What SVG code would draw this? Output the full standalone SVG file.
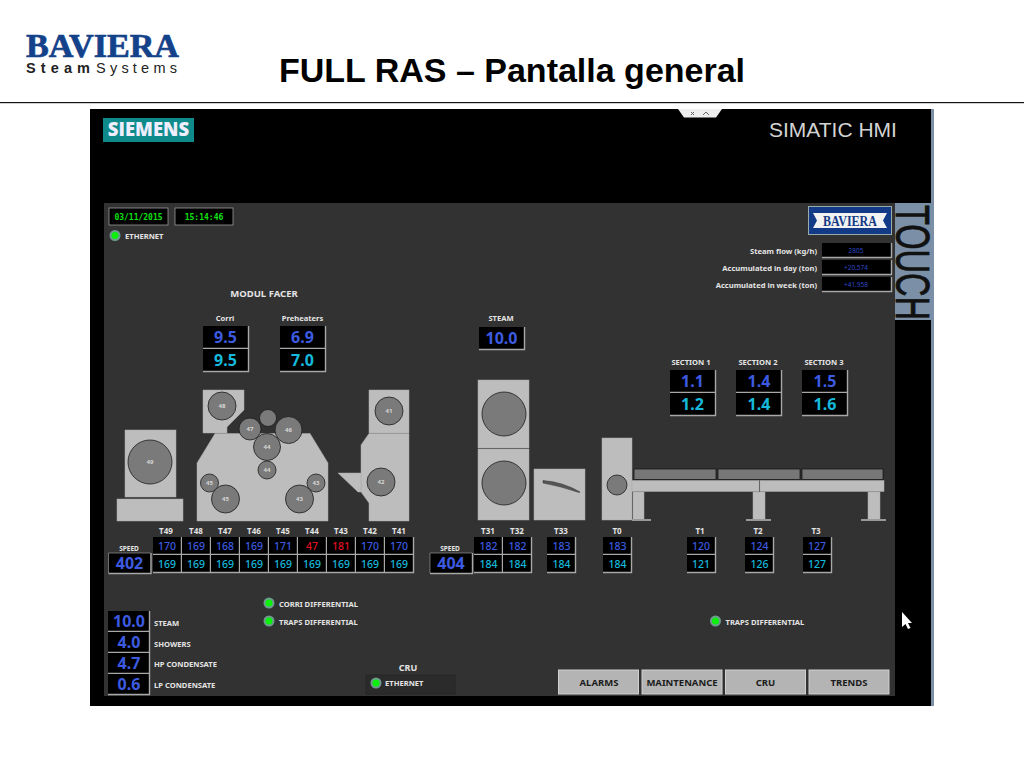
<svg xmlns="http://www.w3.org/2000/svg" width="1024" height="768" viewBox="0 0 1024 768">
<style>
text{font-family:"Noto Sans","Liberation Sans",sans-serif}
.lb{font-size:7.6px;font-weight:700;fill:#e4e4e4}
.ct{text-anchor:middle}
.big{font-size:16px;font-weight:700;text-anchor:middle}
.mid{font-size:10.5px;font-weight:500;text-anchor:middle}
.b{fill:#3c5be0}.c{fill:#14b9dc}.r{fill:#e01020}
.m{fill:#bdbdbd;stroke:#aaa;stroke-width:.5}
.w{fill:#7a7a7a;stroke:#1c1c1c;stroke-width:.8}
.n{font-size:6px;font-weight:700;fill:#d8d8d8;text-anchor:middle}
.led{fill:#0cf00c;stroke:#6f9a90;stroke-width:2}
.btn{fill:#b4b4b4;stroke:#d0d0d0;stroke-width:1}
.bt{font-size:9.5px;font-weight:700;fill:#1c1c1c;text-anchor:middle}
.bev{fill:none;stroke:#a8a8a8;stroke-width:1.4}
</style>
<defs>
<g id="cell"><rect width="28" height="17" fill="#000"/><path class="bev" d="M28.5 0V17.5H0"/></g>
<g id="val"><rect width="45" height="22" fill="#000"/><path class="bev" d="M45.5 0V22.5H0"/></g>
<g id="speed"><rect width="42" height="20" fill="#000"/><path class="bev" d="M42.5 0V20.5H0"/><path d="M0 20V0H42" fill="none" stroke="#a8a8a8" stroke-width=".6"/></g>
<g id="flow"><rect width="69" height="14" fill="#000"/><path class="bev" d="M69.5 0V14.5H0"/></g>
<g id="side"><rect width="41" height="20" fill="#000"/><path class="bev" d="M41.5 0V20.5H0"/></g>
</defs>
<rect width="1024" height="768" fill="#fff"/>

<g id="header">
<text x="26" y="57" font-size="34" font-weight="700" textLength="153" lengthAdjust="spacingAndGlyphs" fill="#14428a" stroke="#14428a" stroke-width=".7" style="font-family:'Liberation Serif',serif">BAVIERA</text>
<text x="26" y="72.500" font-size="14.500" font-weight="700" fill="#222" textLength="64" style="font-family:'Liberation Sans',sans-serif">Steam</text>
<text x="96" y="72.500" font-size="14.500" fill="#222" textLength="81" style="font-family:'Liberation Sans',sans-serif">Systems</text>
<text x="279" y="82" font-size="34" font-weight="700" fill="#000" style="font-family:'Liberation Sans',sans-serif">FULL RAS – Pantalla general</text>
<rect x="0" y="102" width="1024" height="1.2" fill="#111"/>
</g>

<g id="screen">
<rect x="90" y="109" width="841" height="597" fill="#000"/>
<rect x="931" y="109" width="3" height="597" fill="#7b90a6"/>
<rect x="104" y="203" width="791" height="493" fill="#323232"/>
<rect x="103" y="118" width="91" height="24" fill="#0f8a8a"/>
<text x="148.500" y="136" font-size="18.500" font-weight="800" fill="#eef" text-anchor="middle" style="font-family:'Open Sans',sans-serif">SIEMENS</text>
<path d="M678 109H722L716 117.500H684Z" fill="#eee"/>
<path d="M691 112l3 3m0-3l-3 3M703 115l3-3 3 3" stroke="#666" fill="none"/>
<text x="769" y="137" font-size="21" fill="#d4d4d4" style="font-family:'Liberation Sans',sans-serif">SIMATIC HMI</text>
<rect x="895" y="203" width="36" height="117" fill="#7b90a6"/>
<text transform="translate(896,205) rotate(90)" font-size="48" fill="#111" stroke="#111" stroke-width=".8" textLength="115" lengthAdjust="spacingAndGlyphs" style="font-family:'Liberation Sans',sans-serif">TOUCH</text>
<path d="M902 612V627L905.500 624L908 629L910.500 628L908 623H912Z" fill="#fff"/>
</g>

<g id="status">
<rect x="109" y="208" width="59" height="17" fill="#000" stroke="#999" stroke-width=".8"/>
<text x="138.500" y="220" font-size="8" font-weight="700" fill="#10e010" text-anchor="middle" style="font-family:'DejaVu Sans Mono',monospace">03/11/2015</text>
<rect x="175" y="208" width="58" height="17" fill="#000" stroke="#999" stroke-width=".8"/>
<text x="204" y="220" font-size="8" font-weight="700" fill="#10e010" text-anchor="middle" style="font-family:'DejaVu Sans Mono',monospace">15:14:46</text>
<circle class="led" cx="115" cy="235.500" r="4.500"/>
<text class="lb" x="125" y="238.500">ETHERNET</text>
</g>

<g id="baviera-badge">
<rect x="808.500" y="206.500" width="83" height="28" fill="#123a86" stroke="#9aa" stroke-width="1"/>
<path d="M813 213H887L883 220.500L887 228H813L817 220.500Z" fill="#f2f2f2"/>
<text x="850" y="225.500" font-size="14" font-weight="700" fill="#123a86" text-anchor="middle" textLength="54" lengthAdjust="spacingAndGlyphs" style="font-family:'Liberation Serif',serif">BAVIERA</text>
</g>

<g id="flows">
<g class="lb" text-anchor="end">
<text x="817" y="254">Steam flow (kg/h)</text>
<text x="817" y="271">Accumulated in day (ton)</text>
<text x="817" y="288">Accumulated in week (ton)</text>
</g>
<use href="#flow" x="822" y="243"/><use href="#flow" x="822" y="260"/><use href="#flow" x="822" y="277"/>
<g font-size="6.500" fill="#2e48c8" text-anchor="middle">
<text x="856" y="252.500">2805</text><text x="856" y="270">+20.574</text><text x="856" y="287">+41.958</text>
</g>
</g>

<g id="setpoints">
<text class="lb ct" x="264" y="296.500" style="font-size:9.500px">MODUL FACER</text>
<text class="lb ct" x="225" y="320.500">Corri</text>
<text class="lb ct" x="302.500" y="320.500">Preheaters</text>
<text class="lb ct" x="501" y="320.500">STEAM</text>
<use href="#val" x="203" y="326"/><use href="#val" x="203" y="349"/>
<use href="#val" x="280" y="326"/><use href="#val" x="280" y="349"/>
<use href="#val" x="479" y="327"/>
<text class="big b" x="225.500" y="342.500">9.5</text><text class="big c" x="225.500" y="365.500">9.5</text>
<text class="big b" x="302.500" y="342.500">6.9</text><text class="big c" x="302.500" y="365.500">7.0</text>
<text class="big b" x="501.500" y="343.500">10.0</text>
<text class="lb ct" x="691" y="364.500">SECTION 1</text>
<text class="lb ct" x="758" y="364.500">SECTION 2</text>
<text class="lb ct" x="824" y="364.500">SECTION 3</text>
<use href="#val" x="670" y="370"/><use href="#val" x="670" y="393"/>
<use href="#val" x="736" y="370"/><use href="#val" x="736" y="393"/>
<use href="#val" x="802" y="370"/><use href="#val" x="802" y="393"/>
<text class="big b" x="692.500" y="386.500">1.1</text><text class="big c" x="692.500" y="409.500">1.2</text>
<text class="big b" x="759" y="386.500">1.4</text><text class="big c" x="759" y="409.500">1.4</text>
<text class="big b" x="825" y="386.500">1.5</text><text class="big c" x="825" y="409.500">1.6</text>
</g>

<g id="machine-facer">
<rect class="m" x="125" y="430" width="51" height="67"/>
<rect class="m" x="117" y="499" width="66" height="22"/>
<circle class="w" cx="150" cy="462" r="22"/><text class="n" x="150" y="464">49</text>
<path class="m" d="M203 390H244V410L227 427V433H203Z"/>
<path class="m" d="M197 521V463L215 433.500H310L328 463V521Z"/>
<circle class="w" cx="222" cy="406" r="14"/><text class="n" x="222" y="408">48</text>
<circle class="w" cx="268" cy="418" r="8.500"/>
<circle class="w" cx="250" cy="429" r="11"/><text class="n" x="250" y="431">47</text>
<circle class="w" cx="288.500" cy="430" r="13.500"/><text class="n" x="288.500" y="432">46</text>
<circle class="w" cx="267" cy="447" r="13.500"/><text class="n" x="267" y="449">44</text>
<circle class="w" cx="267" cy="470" r="9"/><text class="n" x="267" y="472">44</text>
<circle class="w" cx="209.500" cy="483" r="9"/><text class="n" x="209.500" y="485">45</text>
<circle class="w" cx="225.500" cy="499" r="14"/><text class="n" x="225.500" y="501">45</text>
<circle class="w" cx="299.500" cy="499" r="14"/><text class="n" x="299.500" y="501">43</text>
<circle class="w" cx="316" cy="483" r="9"/><text class="n" x="316" y="485">43</text>
<rect class="m" x="369" y="390" width="40" height="43"/>
<path class="m" d="M369 433.500H409V521H369V503L361 492V445Z"/>
<path class="m" d="M338 473H361V492H358Z"/>
<circle class="w" cx="389" cy="411" r="14"/><text class="n" x="389" y="413">41</text>
<circle class="w" cx="381" cy="482" r="14"/><text class="n" x="381" y="484">42</text>
</g>

<g id="machine-steam">
<rect class="m" x="478" y="380" width="51" height="68"/>
<rect class="m" x="478" y="449" width="51" height="71"/>
<circle class="w" cx="504" cy="414" r="22"/>
<circle class="w" cx="504" cy="483" r="22"/>
<rect class="m" x="534" y="469" width="51" height="51"/>
<path d="M543 480.500Q563 482 580 492L579 492.500Q560 486 543 483Z" fill="#555" stroke="#333" stroke-width=".5"/>
<rect class="m" x="602" y="438" width="30" height="82"/>
<circle class="w" cx="617" cy="485" r="10"/>
</g>

<g id="conveyor">
<rect x="634" y="469" width="82" height="10.500" fill="#777" stroke="#111" stroke-width=".7"/>
<rect x="718" y="469" width="82" height="10.500" fill="#777" stroke="#111" stroke-width=".7"/>
<rect x="802" y="469" width="81" height="10.500" fill="#777" stroke="#111" stroke-width=".7"/>
<rect class="m" x="632" y="480.500" width="127" height="11"/>
<rect class="m" x="760" y="480.500" width="124" height="11"/>
<rect class="m" x="633" y="492" width="11" height="28"/>
<rect class="m" x="753" y="492" width="12" height="28"/>
<rect class="m" x="868" y="492" width="12" height="28"/>
<rect x="632" y="519" width="19" height="2" fill="#999"/>
<rect x="746" y="519" width="25" height="2" fill="#999"/>
<rect x="861" y="519" width="25" height="2" fill="#999"/>
</g>

<g id="temps-facer">
<g class="lb ct" style="font-size:8px">
<text x="166" y="534">T49</text><text x="196" y="534">T48</text><text x="225" y="534">T47</text><text x="254" y="534">T46</text><text x="283" y="534">T45</text><text x="312" y="534">T44</text><text x="341" y="534">T43</text><text x="370" y="534">T42</text><text x="399" y="534">T41</text>
<text x="129" y="550.500" style="font-size:6.500px">SPEED</text>
</g>
<use href="#speed" x="108.500" y="553"/>
<text class="big b" x="129.500" y="569">402</text>
<use href="#cell" x="153" y="537"/><use href="#cell" x="182" y="537"/><use href="#cell" x="211" y="537"/><use href="#cell" x="240" y="537"/><use href="#cell" x="269" y="537"/><use href="#cell" x="298" y="537"/><use href="#cell" x="327" y="537"/><use href="#cell" x="356" y="537"/><use href="#cell" x="385" y="537"/>
<use href="#cell" x="153" y="555"/><use href="#cell" x="182" y="555"/><use href="#cell" x="211" y="555"/><use href="#cell" x="240" y="555"/><use href="#cell" x="269" y="555"/><use href="#cell" x="298" y="555"/><use href="#cell" x="327" y="555"/><use href="#cell" x="356" y="555"/><use href="#cell" x="385" y="555"/>
<text class="mid b" x="167" y="549.500">170</text><text class="mid b" x="196" y="549.500">169</text><text class="mid b" x="225" y="549.500">168</text><text class="mid b" x="254" y="549.500">169</text><text class="mid b" x="283" y="549.500">171</text><text class="mid r" x="312" y="549.500">47</text><text class="mid r" x="341" y="549.500">181</text><text class="mid b" x="370" y="549.500">170</text><text class="mid b" x="399" y="549.500">170</text>
<text class="mid c" x="167" y="568">169</text><text class="mid c" x="196" y="568">169</text><text class="mid c" x="225" y="568">169</text><text class="mid c" x="254" y="568">169</text><text class="mid c" x="283" y="568">169</text><text class="mid c" x="312" y="568">169</text><text class="mid c" x="341" y="568">169</text><text class="mid c" x="370" y="568">169</text><text class="mid c" x="399" y="568">169</text>
</g>

<g id="temps-steam">
<g class="lb ct" style="font-size:8px">
<text x="488" y="534">T31</text><text x="517" y="534">T32</text><text x="561" y="534">T33</text><text x="617" y="534">T0</text><text x="700" y="534">T1</text><text x="758" y="534">T2</text><text x="816" y="534">T3</text>
<text x="450" y="550.500" style="font-size:6.500px">SPEED</text>
</g>
<use href="#speed" x="430" y="553"/>
<text class="big b" x="451" y="569">404</text>
<use href="#cell" x="474" y="537"/><use href="#cell" x="503" y="537"/><use href="#cell" x="547" y="537"/><use href="#cell" x="603" y="537"/><use href="#cell" x="687" y="537"/><use href="#cell" x="745" y="537"/><use href="#cell" x="803" y="537"/>
<use href="#cell" x="474" y="555"/><use href="#cell" x="503" y="555"/><use href="#cell" x="547" y="555"/><use href="#cell" x="603" y="555"/><use href="#cell" x="687" y="555"/><use href="#cell" x="745" y="555"/><use href="#cell" x="803" y="555"/>
<text class="mid b" x="488.500" y="549.500">182</text><text class="mid b" x="517.500" y="549.500">182</text><text class="mid b" x="561.500" y="549.500">183</text><text class="mid b" x="617.500" y="549.500">183</text><text class="mid b" x="701" y="549.500">120</text><text class="mid b" x="759.500" y="549.500">124</text><text class="mid b" x="817" y="549.500">127</text>
<text class="mid c" x="488.500" y="568">184</text><text class="mid c" x="517.500" y="568">184</text><text class="mid c" x="561.500" y="568">184</text><text class="mid c" x="617.500" y="568">184</text><text class="mid c" x="701" y="568">121</text><text class="mid c" x="759.500" y="568">126</text><text class="mid c" x="817" y="568">127</text>
</g>

<g id="consumption">
<use href="#side" x="108" y="611"/><use href="#side" x="108" y="632"/><use href="#side" x="108" y="653"/><use href="#side" x="108" y="674"/>
<text class="big b" x="129" y="627">10.0</text><text class="big b" x="129" y="648">4.0</text><text class="big b" x="129" y="669">4.7</text><text class="big b" x="129" y="690">0.6</text>
<text class="lb" x="154" y="625.500">STEAM</text><text class="lb" x="154" y="646.500">SHOWERS</text><text class="lb" x="154" y="666.500">HP CONDENSATE</text><text class="lb" x="154" y="687.500">LP CONDENSATE</text>
</g>

<g id="differentials">
<circle class="led" cx="269" cy="603" r="4.500"/><text class="lb" x="279" y="606.500">CORRI DIFFERENTIAL</text>
<circle class="led" cx="269" cy="621" r="4.500"/><text class="lb" x="279" y="624.500">TRAPS DIFFERENTIAL</text>
<circle class="led" cx="715.500" cy="621" r="4.500"/><text class="lb" x="725.500" y="624.500">TRAPS DIFFERENTIAL</text>
</g>

<g id="cru">
<text class="lb ct" x="408" y="670.500" style="font-size:9px">CRU</text>
<rect x="366" y="675" width="89" height="19" fill="#2b2b2b" stroke="#262626"/>
<circle class="led" cx="376" cy="683" r="4.500"/>
<text class="lb" x="385" y="686">ETHERNET</text>
</g>

<g id="buttons">
<rect class="btn" x="558.500" y="670" width="80" height="24"/><text class="bt" x="599" y="685.500">ALARMS</text>
<rect class="btn" x="642" y="670" width="80" height="24"/><text class="bt" x="682" y="685.500">MAINTENANCE</text>
<rect class="btn" x="725.500" y="670" width="80" height="24"/><text class="bt" x="765.500" y="685.500">CRU</text>
<rect class="btn" x="809" y="670" width="80" height="24"/><text class="bt" x="849" y="685.500">TRENDS</text>
</g>
</svg>
